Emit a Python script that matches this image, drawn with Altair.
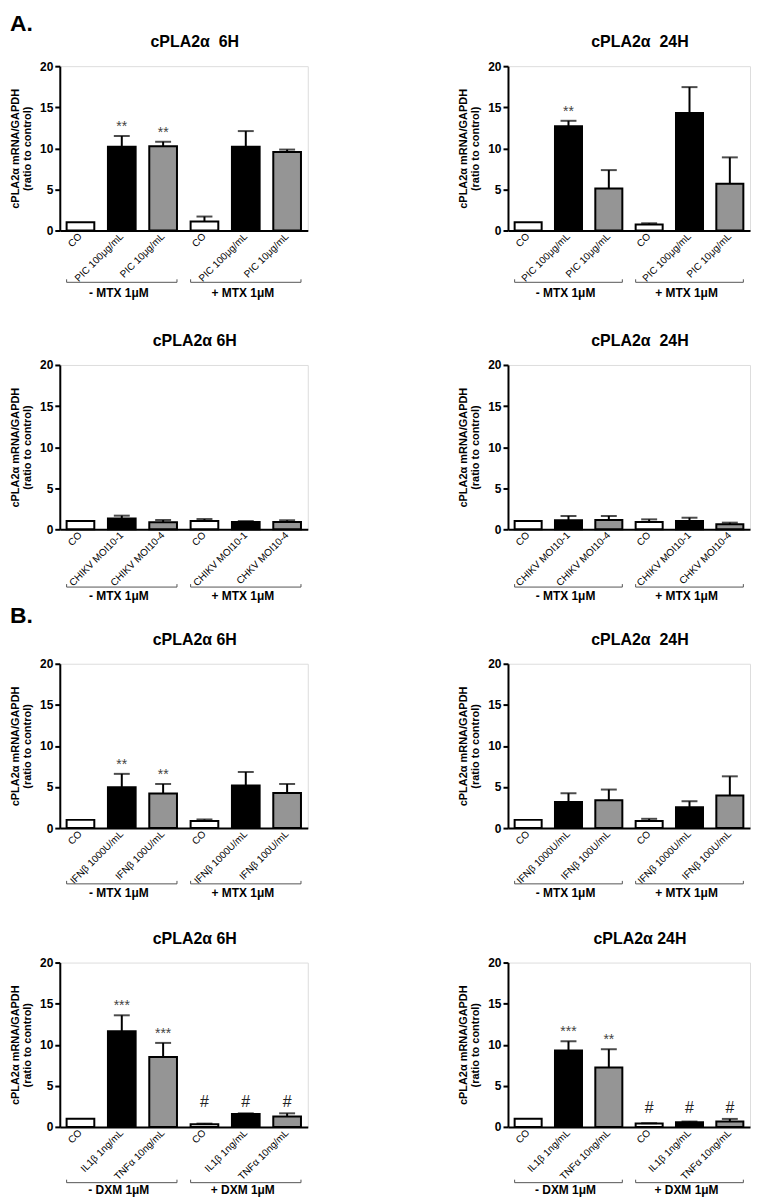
import altair as alt
import pandas as pd

FONT = "Liberation Sans"

# ---------------- data ----------------
titles = ["cPLA2α\u00a0 6H", "cPLA2α\u00a0 24H",
          "cPLA2α 6H", "cPLA2α\u00a0 24H",
          "cPLA2α 6H", "cPLA2α\u00a0 24H",
          "cPLA2α 6H", "cPLA2α 24H"]

kinds = ["open", "solid", "check", "open", "solid", "check"]

pic_labels = ["CO", "PIC 100μg/mL", "PIC 10μg/mL", "CO", "PIC 100μg/mL", "PIC 10μg/mL"]
chikv_labels_6h = ["CO", "CHIKV MOI10-1", "CHIKV MOI10-4", "CO", "CHIKV MOI10-1", "CHKV MOI10-4"]
chikv_labels_24h = ["CO", "CHIKV MOI10-1", "CHIKV MOI10-4", "CO", "CHIKV MOI10-1", "CHKV MOI10-4"]
ifn_labels = ["CO", "IFNβ 1000U/mL", "IFNβ 100U/mL", "CO", "IFNβ 1000U/mL", "IFNβ 100U/mL"]
cyt_labels = ["CO", "IL1β 1ng/mL", "TNFα 10ng/mL", "CO", "IL1β 1ng/mL", "TNFα 10ng/mL"]

mtx_groups = ["- MTX 1μM", "+ MTX 1μM"]
dxm_groups = ["- DXM 1μM", "+ DXM 1μM"]

pic_6h = [1.0, 10.2, 10.25, 1.1, 10.2, 9.55]
pic_6h_err = [0, 1.3, 0.55, 0.6, 1.9, 0.3]
pic_6h_sig = ["", "**", "**", "", "", ""]

pic_24h = [1.0, 12.7, 5.1, 0.73, 14.3, 5.7]
pic_24h_err = [0, 0.65, 2.25, 0.15, 3.15, 3.2]
pic_24h_sig = ["", "**", "", "", "", ""]

chikv_6h = [1.0, 1.33, 0.85, 1.0, 0.9, 0.9]
chikv_6h_err = [0, 0.33, 0.28, 0.25, 0.1, 0.2]
chikv_6h_sig = ["", "", "", "", "", ""]

chikv_24h = [1.0, 1.09, 1.13, 0.89, 1.0, 0.6]
chikv_24h_err = [0, 0.53, 0.49, 0.32, 0.41, 0.21]
chikv_24h_sig = ["", "", "", "", "", ""]

ifn_6h = [1.0, 4.97, 4.2, 0.85, 5.17, 4.28]
ifn_6h_err = [0, 1.63, 1.17, 0.2, 1.66, 1.09]
ifn_6h_sig = ["", "**", "**", "", "", ""]

ifn_24h = [1.0, 3.19, 3.39, 0.85, 2.55, 3.96]
ifn_24h_err = [0, 1.05, 1.3, 0.28, 0.72, 2.34]
ifn_24h_sig = ["", "", "", "", "", ""]

cyt_6h = [1.0, 11.64, 8.52, 0.32, 1.58, 1.25]
cyt_6h_err = [0, 1.94, 1.7, 0.08, 0.07, 0.4]
cyt_6h_sig = ["", "***", "***", "#", "#", "#"]

cyt_24h = [1.0, 9.3, 7.23, 0.4, 0.57, 0.65]
cyt_24h_err = [0, 1.12, 2.22, 0.05, 0.08, 0.32]
cyt_24h_sig = ["", "***", "**", "#", "#", "#"]

Y_TITLE = ["cPLA2α mRNA/GAPDH", "(ratio to control)"]
PLOT_H = 165


def panel(title, labels, values, errs, sigs, groups, width, line_off, text_off,
          letter=None, letter_y=-35):
    df = pd.DataFrame({
        "idx": list(range(len(labels))),
        "label": labels,
        "kind": kinds,
        "value": values,
        "err": errs,
        "sig": sigs,
        "grp": [0, 0, 0, 1, 1, 1],
    })
    gdf = pd.DataFrame({"start": [0, 3], "mid": [1, 4], "end": [2, 5], "glabel": groups})
    label_expr = "[" + ",".join("'" + l + "'" for l in labels) + "][datum.value]"
    step = width / 6.0
    half = step * 0.67 / 2

    xaxis = alt.Axis(title=None, ticks=False, labelAngle=-45, labelAlign="right",
                     labelBaseline="middle", labelExpr=label_expr, labelFont=FONT,
                     labelFontSize=10, labelPadding=4, labelColor="black",
                     domainColor="black", domainWidth=2, grid=False)
    xscale = alt.Scale(paddingInner=0.33, paddingOuter=0.165)
    yaxis = alt.Axis(values=[0, 5, 10, 15, 20], grid=False, domainColor="black",
                     domainWidth=2, tickColor="black", tickWidth=2, tickSize=5,
                     labelFont=FONT, labelFontSize=12, labelFontWeight="bold",
                     labelColor="black", labelPadding=2, title=Y_TITLE,
                     titleFont=FONT, titleFontSize=11, titleFontWeight="bold",
                     titleColor="black", titlePadding=7, titleLineHeight=12.5)
    yscale = alt.Scale(domain=[0, 20], nice=False)

    base = (alt.Chart(df)
            .transform_calculate(top="datum.value + datum.err")
            .transform_joinaggregate(gtop="max(top)", groupby=["grp"])
            .transform_calculate(ann_y="indexof(datum.sig, '#') >= 0 ? datum.gtop : datum.top"))

    X = alt.X("idx:O", scale=xscale, axis=xaxis)
    Y = alt.Y("value:Q", scale=yscale, axis=yaxis)

    err = base.mark_rule(color="black", strokeWidth=2).encode(x=X, y=Y, y2="top:Q")
    bars = base.mark_bar(stroke="black", strokeWidth=2).encode(
        x=X, y=Y,
        fill=alt.Fill("kind:N", scale=alt.Scale(domain=["open", "solid", "check"],
                                                range=["white", "black", "#959595"]),
                      legend=None))
    cap = base.transform_filter("datum.err > 0").mark_tick(
        color="black", thickness=2, size=16).encode(
        x=X, y=alt.Y("top:Q", scale=yscale, axis=yaxis))
    stars = base.transform_filter("indexof(datum.sig, '*') >= 0").mark_text(
        font=FONT, fontSize=14, color="#444444", baseline="alphabetic", dy=-5).encode(
        x=X, y=alt.Y("ann_y:Q", scale=yscale, axis=yaxis), text="sig:N")
    hashes = base.transform_filter("indexof(datum.sig, '#') >= 0").mark_text(
        font=FONT, fontSize=16, color="#222222", baseline="alphabetic", dy=-6).encode(
        x=X, y=alt.Y("ann_y:Q", scale=yscale, axis=yaxis), text="sig:N")

    gbase = alt.Chart(gdf)
    gline = gbase.mark_rule(color="#555555", strokeWidth=1, xOffset=-half, x2Offset=half).encode(
        x=alt.X("start:O", scale=xscale, axis=xaxis), x2="end:O", y=alt.value(PLOT_H + line_off))
    gtick_l = gbase.mark_rule(color="#555555", strokeWidth=1, xOffset=-half).encode(
        x=alt.X("start:O", scale=xscale, axis=xaxis), y=alt.value(PLOT_H + line_off - 3),
        y2=alt.value(PLOT_H + line_off))
    gtick_r = gbase.mark_rule(color="#555555", strokeWidth=1, xOffset=half).encode(
        x=alt.X("end:O", scale=xscale, axis=xaxis), y=alt.value(PLOT_H + line_off - 3),
        y2=alt.value(PLOT_H + line_off))
    gtext = gbase.mark_text(font=FONT, fontSize=12, fontWeight="bold", color="black",
                            baseline="alphabetic", dx=-3).encode(
        x=alt.X("mid:O", scale=xscale, axis=xaxis), y=alt.value(PLOT_H + text_off), text="glabel:N")

    ttl = alt.Chart(alt.Data(values=[{"t": title}])).mark_text(
        font=FONT, fontSize=16, fontWeight="bold", color="black", baseline="alphabetic",
        align="center").encode(x=alt.value(width / 2 + 11), y=alt.value(-19), text="t:N")

    layers = [err, bars, cap, stars, hashes, gline, gtick_l, gtick_r, gtext, ttl]
    if letter:
        lt = alt.Chart(alt.Data(values=[{"t": letter}])).mark_text(
            font=FONT, fontSize=23, fontWeight="bold", color="black", baseline="alphabetic",
            align="left").encode(x=alt.value(-50), y=alt.value(letter_y), text="t:N")
        layers.append(lt)
    return alt.layer(*layers).properties(width=width, height=PLOT_H)


WL, WR = 249, 243
panels = [
    panel(titles[0], pic_labels, pic_6h, pic_6h_err, pic_6h_sig, mtx_groups, WL, 52, 67, "A.", -35),
    panel(titles[1], pic_labels, pic_24h, pic_24h_err, pic_24h_sig, mtx_groups, WR, 52, 67),
    panel(titles[2], chikv_labels_6h, chikv_6h, chikv_6h_err, chikv_6h_sig, mtx_groups, WL, 58, 71),
    panel(titles[3], chikv_labels_24h, chikv_24h, chikv_24h_err, chikv_24h_sig, mtx_groups, WR, 58, 71),
    panel(titles[4], ifn_labels, ifn_6h, ifn_6h_err, ifn_6h_sig, mtx_groups, WL, 56, 69, "B.", -41),
    panel(titles[5], ifn_labels, ifn_24h, ifn_24h_err, ifn_24h_sig, mtx_groups, WR, 56, 69),
    panel(titles[6], cyt_labels, cyt_6h, cyt_6h_err, cyt_6h_sig, dxm_groups, WL, 56, 67),
    panel(titles[7], cyt_labels, cyt_24h, cyt_24h_err, cyt_24h_sig, dxm_groups, WR, 56, 67),
]

chart = (alt.concat(*panels, columns=2, spacing={"row": 135, "column": 201}, bounds="flush")
         .properties(padding={"left": 0, "top": 2, "right": 0, "bottom": 0})
         .configure_view(stroke=None)
         .configure(background="white"))

chart.save("out.html", embed_options={"renderer": "svg", "actions": False})
